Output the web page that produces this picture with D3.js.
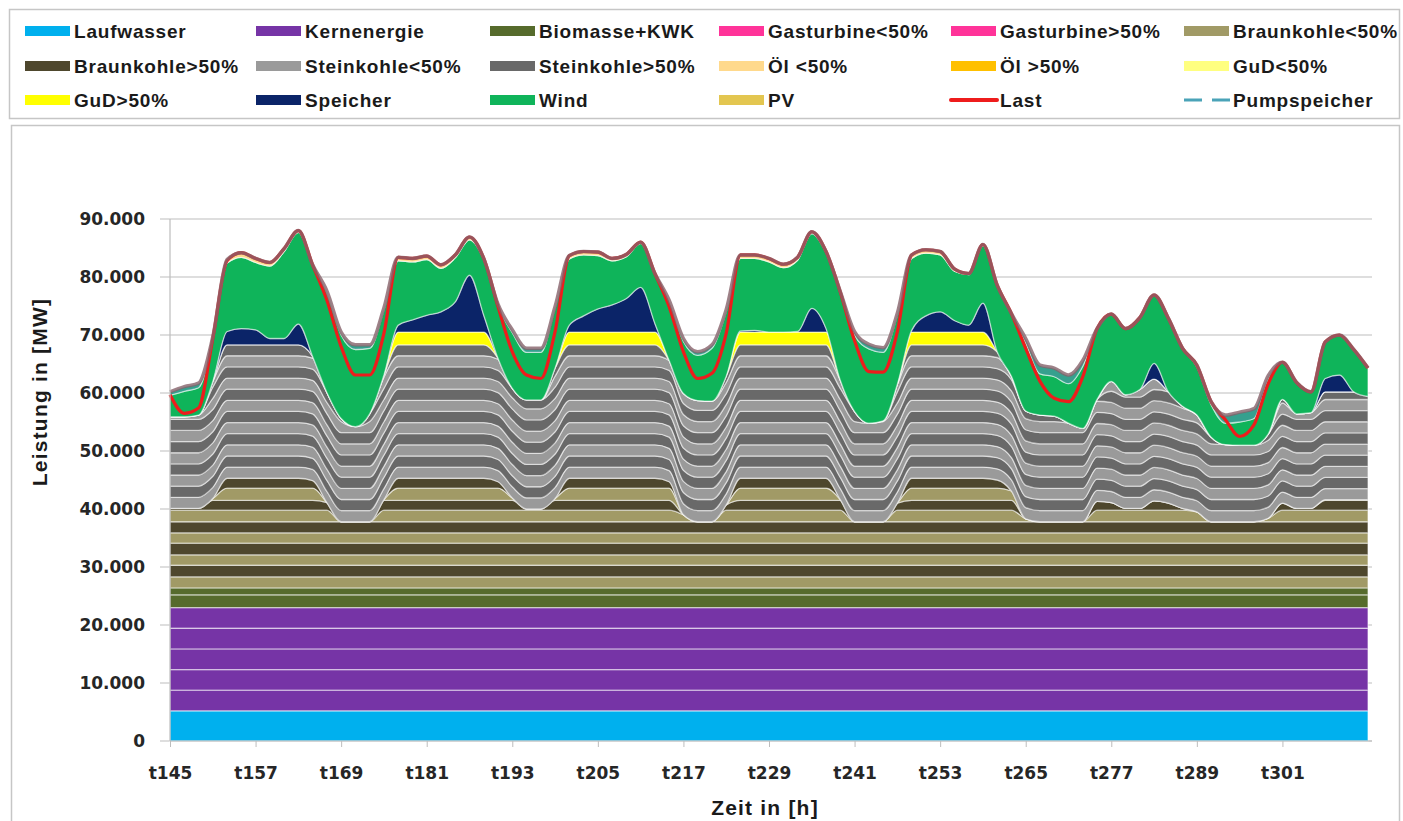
<!DOCTYPE html>
<html>
<head>
<meta charset="utf-8">
<script src="https://cdn.jsdelivr.net/npm/d3@7"></script>
<style>
body { margin: 0; background: #fff; }
svg { display: block; }
text { font-family: "DejaVu Sans", Verdana, sans-serif; }
.legend text { font-family: "Liberation Sans", Arial, sans-serif; font-weight: 700; font-size: 19px; fill: #1a1a1a; letter-spacing: 0.8px; }
.axis .tick text { font-weight: 700; font-size: 17px; fill: #262626; }
.axis path.domain { display: none; }
.axis .tick line { stroke: #bdbdbd; }
.title { font-family: "Liberation Sans", Arial, sans-serif; font-weight: 700; font-size: 21px; fill: #1a1a1a; letter-spacing: 1.2px; }
</style>
</head>
<body>
<script>
const width = 1403, height = 821;

// time axis: hours t145 ... t313, sampled every 2 h
const hours = d3.range(145, 314, 2);
const tickHours = d3.range(145, 302, 12);
const yTicks = d3.range(0, 90001, 10000);

// constant blocks (MW)
const laufwasser = 5200;
const kernBloecke = [3560, 3560, 3560, 3560, 3560];
const biomasse = [2200, 1200];
const braunBasis = [1900, 2000, 1800, 2000, 1800, 1900];      // <50%, >50%, ...
const braunVarCap = [2000, 1700, 2100, 1700];
const steinCap = [1920, 1920, 1920, 1920, 1920, 1920, 1920, 1920, 1920, 1920, 1920, 1920];

// variable series (MW), one value per sample hour
const braunkohleVar = [2300,2300,2300,4000,7500,7500,7500,7500,7500,7500,
  7100,3300,0,0,0,3800,7500,7500,7500,7500,
  7500,7500,7500,6900,4100,2200,2200,4000,7500,7500,
  7500,7500,7500,7500,7500,6900,1200,0,0,2900,
  7500,7500,7500,7500,7500,7500,7500,3800,0,0,
  0,3200,7500,7500,7500,7500,7500,7500,7200,5300,
  500,0,0,0,0,3500,3300,2300,2300,3600,
  3200,2300,1700,0,0,0,0,600,3200,2300,
  2300,3800,3800,3800,3800];
const steinkohle = [15800,15800,16100,20200,23000,23000,23000,23000,23000,23000,
  21400,19000,17800,16400,18600,21500,23000,23000,23000,23000,
  23000,23000,23000,21300,18900,18800,18800,22500,23000,23000,
  23000,23000,23000,23000,23000,20900,20900,20900,20800,22200,
  23000,23000,23000,23000,23000,23000,23000,20600,19000,17000,
  17400,20500,23000,23000,23000,23000,23000,23000,22100,19800,
  18600,18400,18200,17000,16100,17600,20900,19600,20500,21000,
  19200,17600,16700,14600,13300,13200,13200,14500,17900,16300,
  16500,18600,18600,18600,17800];
const gud = [0,0,0,0,0,0,0,0,0,0,
  0,0,0,0,0,0,2200,2200,2200,2200,
  2200,2200,2200,0,0,0,0,0,2200,2200,
  2200,2200,2200,2200,2200,0,0,0,0,0,
  2200,2200,2200,2200,2200,2200,2200,0,0,0,
  0,0,2200,2200,2200,2200,2200,2200,0,0,
  0,0,0,0,0,0,0,0,0,0,
  0,0,0,0,0,0,0,0,0,0,
  0,0,0,0,0];
const speicher = [0,0,0,0,2300,2800,2600,1100,1100,3600,
  0,0,0,0,0,0,1200,2100,2900,3500,
  5200,9800,2900,0,0,0,0,0,1200,2800,
  4000,4700,5800,7700,1500,0,0,0,0,0,
  200,300,0,0,100,4100,600,0,0,0,
  0,0,300,2800,3500,2000,1200,5000,0,0,
  0,0,0,0,0,0,0,0,0,2700,
  0,0,0,0,0,0,0,0,0,0,
  0,2300,2900,0,0];
const wind = [3700,4400,4700,7400,11800,12300,11600,12500,15000,15800,
  15800,17200,14400,13300,11300,11200,11100,10000,9600,7500,
  7600,6100,9600,9000,9600,8200,8200,10300,11400,10500,
  9200,7600,7200,7600,8600,10300,9000,7800,9100,11100,
  12500,12400,12100,11100,12300,12900,13100,15200,13200,12800,
  11800,11900,12400,10800,9800,8500,8700,9900,11500,10800,
  11700,7100,6800,6800,10700,12200,11600,11400,12400,11800,
  12700,10000,8300,5600,3700,4000,4600,9600,6400,5400,
  3600,6300,6900,7300,4900];
const pumpspeicher = [600,800,800,300,0,0,0,0,0,0,
  0,300,500,800,600,400,0,0,0,0,
  0,0,0,300,500,700,700,300,0,0,
  0,0,0,0,0,100,500,600,600,400,
  0,0,0,0,0,0,0,100,600,800,
  800,400,0,0,0,0,0,0,0,0,
  800,1500,1500,1500,1000,0,0,0,0,0,
  0,0,300,500,1400,1700,1700,500,0,0,
  0,0,0,0,0];
const oel = [0,0,0,0,600,800,700,600,500,300,
  0,0,0,0,0,0,600,600,600,600,
  500,500,200,0,0,0,0,0,600,600,
  600,400,400,200,0,0,0,0,0,0,
  600,600,600,600,500,300,200,0,0,0,
  0,0,600,600,600,400,200,200,0,0,
  0,0,0,0,0,0,0,0,0,0,
  0,0,0,0,0,0,0,0,0,0,
  0,0,0,0,0];
const last = [59700,56500,57400,69400,82800,84200,83200,82500,84900,88000,
  82100,76000,68000,63100,63100,70300,83400,83200,83600,82100,
  83800,86900,83200,74900,67100,63100,62500,70600,83700,84400,
  84300,83200,83900,86000,80600,74900,67100,62500,63400,70300,
  83800,83800,83200,82200,83400,87800,84400,77400,69000,63700,
  63600,70600,83800,84700,84400,81400,80600,85600,78600,73700,
  67700,62000,59100,58500,62800,71100,73600,71100,73000,76900,
  72900,67700,64800,58500,55400,52500,54500,61600,65300,61800,
  60200,68800,70000,67500,64300];

const C = {
  lauf: "#00b0ee", kern: "#7634a6", bio: "#566b2c", gas: "#ff3399",
  braunLo: "#a19a66", braunHi: "#4e472d", steinLo: "#9a9a9a", steinHi: "#696969",
  oelLo: "#ffd98c", oelHi: "#ffc000", gudLo: "#ffff80", gudHi: "#ffff00",
  speicher: "#0b2468", wind: "#0fb45a", pv: "#e3c650", last: "#ee1c1c",
  pump: "#4aa3b8", pumpArea: "#36a08e", top: "#86626a"
};

// blocks of a group are loaded from the bottom block upwards
function fillBlocks(total, caps) {
  let rest = total;
  return caps.map(c => { const v = Math.max(0, Math.min(c, rest)); rest -= v; return v; });
}

const bands = [];
function addBand(key, color, values) { bands.push({ key, color, values }); }
addBand("lauf", C.lauf, hours.map(() => laufwasser));
kernBloecke.forEach((v, i) => addBand("kern" + i, C.kern, hours.map(() => v)));
biomasse.forEach((v, i) => addBand("bio" + i, C.bio, hours.map(() => v)));
braunBasis.forEach((v, i) => addBand("braunB" + i, i % 2 ? C.braunHi : C.braunLo, hours.map(() => v)));
braunVarCap.forEach((c, j) => addBand("braunV" + j, j % 2 ? C.braunHi : C.braunLo,
  braunkohleVar.map(t => fillBlocks(t, braunVarCap)[j])));
steinCap.forEach((c, j) => addBand("stein" + j, j % 2 ? C.steinHi : C.steinLo,
  steinkohle.map(t => fillBlocks(t, steinCap)[j])));
addBand("gud", C.gudHi, gud);
addBand("speicher", C.speicher, speicher);
addBand("wind", C.wind, wind);
addBand("pump", C.pumpArea, pumpspeicher);
addBand("oel", C.oelLo, oel);

const rows = hours.map((h, i) => {
  const r = { h };
  bands.forEach(b => r[b.key] = b.values[i]);
  return r;
});
const series = d3.stack().keys(bands.map(b => b.key))(rows);

const svg = d3.select("body").append("svg")
  .attr("width", width).attr("height", height);

// frames
svg.append("rect").attr("x", 9.5).attr("y", 9.5).attr("width", 1390).attr("height", 109)
  .attr("fill", "none").attr("stroke", "#c6c6c6").attr("stroke-width", 1.5);
svg.append("rect").attr("x", 11.5).attr("y", 125.5).attr("width", 1388).attr("height", 720)
  .attr("fill", "none").attr("stroke", "#c6c6c6").attr("stroke-width", 1.5);

const x = d3.scaleLinear().domain([145, 313]).range([170, 1368]);
const y = d3.scaleLinear().domain([0, 90000]).range([741, 219]);

// grid
svg.append("g").selectAll("line").data(yTicks).join("line")
  .attr("x1", 160).attr("x2", 1372)
  .attr("y1", d => y(d)).attr("y2", d => y(d))
  .attr("stroke", "#d3d3d3").attr("stroke-width", 1.6);

const area = d3.area()
  .x(d => x(d.data.h))
  .y0(d => y(d[0]))
  .y1(d => y(d[1]))
  .curve(d3.curveMonotoneX);

svg.append("g").selectAll("path").data(series).join("path")
  .attr("d", area)
  .attr("fill", (s, i) => bands[i].color)
  .attr("stroke", "rgba(255,255,255,0.5)")
  .attr("stroke-width", 1.3);

// load
svg.append("path")
  .datum(last.map((v, i) => [hours[i], v]))
  .attr("fill", "none")
  .attr("stroke", C.last)
  .attr("stroke-width", 3.2)
  .attr("d", d3.line().x(d => x(d[0])).y(d => y(d[1])).curve(d3.curveMonotoneX));

// outline of total generation
const topSeries = series[series.length - 1];
svg.append("path")
  .datum(topSeries)
  .attr("fill", "none")
  .attr("stroke", C.top)
  .attr("stroke-opacity", 0.8)
  .attr("stroke-width", 3.5)
  .attr("d", d3.line().x(d => x(d.data.h)).y(d => y(d[1])).curve(d3.curveMonotoneX));

// axes
const fmt = d3.formatLocale({ decimal: ",", thousands: ".", grouping: [3], currency: ["", ""] }).format(",");

svg.append("g").attr("class", "axis")
  .attr("transform", "translate(170,0)")
  .call(d3.axisLeft(y).tickValues(yTicks).tickSize(10).tickPadding(15).tickFormat(fmt))
  .selectAll(".tick line").remove();

svg.append("line").attr("x1", 170).attr("x2", 170).attr("y1", 219).attr("y2", 741)
  .attr("stroke", "#bdbdbd").attr("stroke-width", 1.2);
svg.append("line").attr("x1", 170).attr("x2", 1372).attr("y1", 741).attr("y2", 741)
  .attr("stroke", "#bdbdbd").attr("stroke-width", 1.2);

svg.append("g").attr("class", "axis")
  .attr("transform", "translate(0,741)")
  .call(d3.axisBottom(x).tickValues(tickHours).tickSize(6).tickPadding(20).tickFormat(d => "t" + d));

svg.append("text").attr("class", "title")
  .attr("transform", "translate(47,392) rotate(-90)")
  .attr("text-anchor", "middle")
  .text("Leistung in [MW]");
svg.append("text").attr("class", "title")
  .attr("x", 765).attr("y", 815)
  .attr("text-anchor", "middle")
  .text("Zeit in [h]");

// legend
const legendItems = [
  { name: "Laufwasser", color: C.lauf }, { name: "Kernenergie", color: C.kern },
  { name: "Biomasse+KWK", color: C.bio }, { name: "Gasturbine<50%", color: C.gas },
  { name: "Gasturbine>50%", color: C.gas }, { name: "Braunkohle<50%", color: C.braunLo },
  { name: "Braunkohle>50%", color: C.braunHi }, { name: "Steinkohle<50%", color: C.steinLo },
  { name: "Steinkohle>50%", color: C.steinHi }, { name: "Öl <50%", color: C.oelLo },
  { name: "Öl >50%", color: C.oelHi }, { name: "GuD<50%", color: C.gudLo },
  { name: "GuD>50%", color: C.gudHi }, { name: "Speicher", color: C.speicher },
  { name: "Wind", color: C.wind }, { name: "PV", color: C.pv },
  { name: "Last", color: C.last, type: "line" }, { name: "Pumpspeicher", color: C.pump, type: "dash" }
];
const colX = [25, 256, 490, 719, 951, 1184];
const rowY = [31, 66, 100];

const lg = svg.append("g").attr("class", "legend")
  .selectAll("g").data(legendItems).join("g")
  .attr("transform", (d, i) => `translate(${colX[i % 6]},${rowY[Math.floor(i / 6)]})`);

lg.filter(d => !d.type).append("rect")
  .attr("x", 0).attr("y", -5).attr("width", 45).attr("height", 10)
  .attr("fill", d => d.color);
lg.filter(d => d.type === "line").append("line")
  .attr("x1", 0).attr("x2", 46).attr("y1", 0).attr("y2", 0)
  .attr("stroke", d => d.color).attr("stroke-width", 4).attr("stroke-linecap", "round");
lg.filter(d => d.type === "dash").append("line")
  .attr("x1", 0).attr("x2", 46).attr("y1", 0).attr("y2", 0)
  .attr("stroke", d => d.color).attr("stroke-width", 3).attr("stroke-dasharray", "18,10");
lg.append("text")
  .attr("x", 49).attr("y", 0).attr("dy", "0.36em")
  .text(d => d.name);
</script>
</body>
</html>
